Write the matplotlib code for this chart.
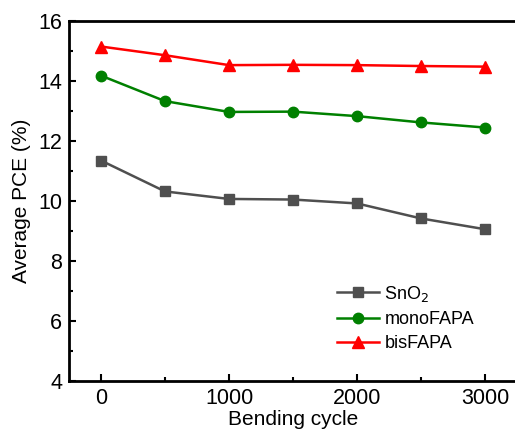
import matplotlib.pyplot as plt
from matplotlib.ticker import MultipleLocator

plt.rcParams['font.family'] = ['Liberation Sans', 'DejaVu Sans']

cycles = [0, 500, 1000, 1500, 2000, 2500, 3000]
sno2 = [11.35, 10.32, 10.07, 10.05, 9.92, 9.42, 9.06]
mono = [14.18, 13.33, 12.97, 12.98, 12.83, 12.62, 12.45]
bis = [15.15, 14.86, 14.53, 14.54, 14.53, 14.50, 14.48]

fig = plt.figure(figsize=(5.15, 4.38), dpi=100)
ax = fig.add_axes([0.134, 0.130, 0.870, 0.822])

ax.plot(cycles, sno2, '-s', color='#4f4f4f', lw=1.8, ms=7.5, label='SnO$_2$')
ax.plot(cycles, mono, '-o', color='#008000', lw=1.8, ms=7.5, label='monoFAPA')
ax.plot(cycles, bis, '-^', color='#ff0000', lw=1.8, ms=8.5, label='bisFAPA')

ax.set_xlim(-250, 3250)
ax.set_ylim(4, 16)
ax.xaxis.set_major_locator(MultipleLocator(1000))
ax.xaxis.set_minor_locator(MultipleLocator(500))
ax.yaxis.set_major_locator(MultipleLocator(2))
ax.yaxis.set_minor_locator(MultipleLocator(1))
ax.tick_params(which='both', direction='in', labelsize=15.5, width=1.5)
ax.tick_params(which='major', length=5, pad=5)
ax.tick_params(which='minor', length=3)
for s in ['left', 'bottom', 'top']:
    ax.spines[s].set_linewidth(2)
ax.spines['right'].set_visible(False)

ax.set_xlabel('Bending cycle', fontsize=15, labelpad=1)
ax.set_ylabel('Average PCE (%)', fontsize=15, labelpad=5)

ax.legend(loc='lower right', bbox_to_anchor=(0.94, 0.035), frameon=False,
          fontsize=13, handlelength=2.3, handletextpad=0.3, labelspacing=0.4)

plt.savefig('out.png', dpi=100)
